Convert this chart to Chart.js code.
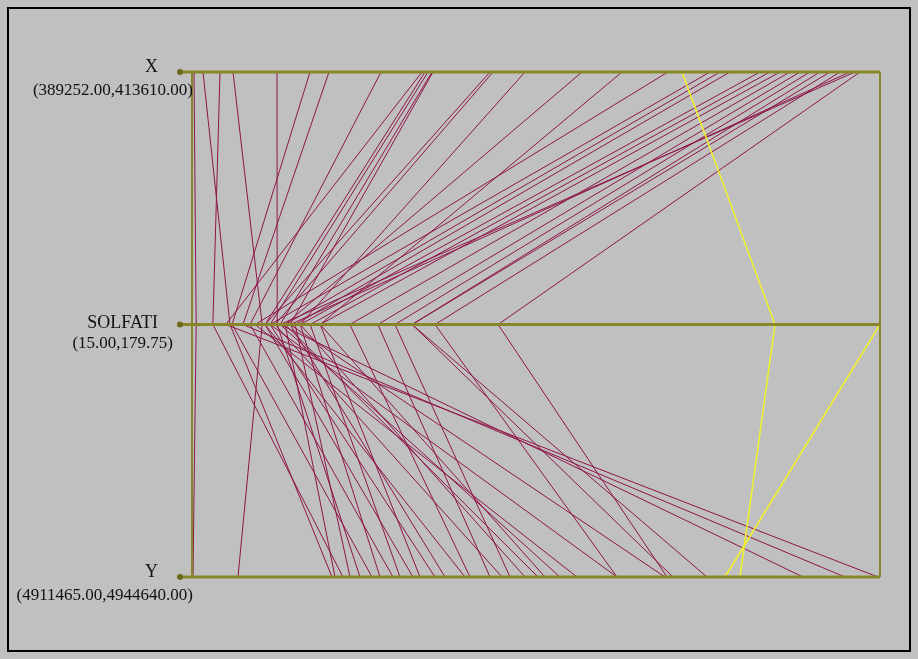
<!DOCTYPE html>
<html>
<head>
<meta charset="utf-8">
<script src="https://cdn.jsdelivr.net/npm/chart.js@4/dist/chart.umd.min.js"></script>
<style>
  html, body { margin: 0; padding: 0; background: #c0c0c0; }
  #wrap { width: 918px; height: 659px; }
</style>
</head>
<body>
<div id="wrap"><canvas id="myChart" width="918" height="659"></canvas></div>
<script>
// axes, top to bottom
const axisNames = ['X', 'SOLFATI', 'Y'];
const axisRanges = [[389252, 413610], [15, 179.75], [4911465, 4944640]];
const rangeLabels = ['(389252.00,413610.00)', '(15.00,179.75)', '(4911465.00,4944640.00)'];

// one entry per record
const xValues = [
  389323, 389641, 390243, 390704, 392261, 393430, 394102, 395943, 397395, 397501,
  397607, 397749, 397784, 399802, 399909, 401041, 403060, 404476, 406104, 407591,
  407945, 408299, 409361, 409715, 410070, 410424, 410778, 411132, 411486, 411840,
  412194, 412548, 412725, 412902, 406600, 413610
];
const solfatiValues = [
  16.0, 24.1, 20.0, 31.8, 35.4, 24.6, 27.2, 28.9, 23.1, 32.5,
  33.7, 36.1, 38.5, 32.5, 34.9, 40.9, 37.3, 45.7, 30.1, 33.7,
  37.3, 39.7, 40.9, 43.3, 45.7, 52.8, 59.5, 63.6, 67.7, 67.7,
  73.2, 38.5, 36.1, 88.3, 154.6, 179.75
];
const yValues = [
  4911513, 4918216, 4918746, 4913683, 4919566, 4920145, 4942953, 4921157, 4944544, 4922122,
  4923182, 4940927, 4923665, 4924629, 4926413, 4927522, 4928149, 4928487, 4930030, 4931959,
  4918360, 4919084, 4920530, 4921495, 4922459, 4924870, 4925835, 4926799, 4936298, 4934658,
  4931959, 4934273, 4929210, 4934370, 4937889, 4937166
];
const selected = [34, 35]; // highlighted records

const lineColor = '#8e1548';
const selColor = '#f2f22a';
const axisColor = '#87872a';

function norm(v, i) {
  return (v - axisRanges[i][0]) / (axisRanges[i][1] - axisRanges[i][0]);
}

const datasets = xValues.map((xv, i) => {
  const sel = selected.includes(i);
  return {
    data: [
      { x: norm(xv, 0), y: 2 },
      { x: norm(solfatiValues[i], 1), y: 1 },
      { x: norm(yValues[i], 2), y: 0 }
    ],
    borderColor: sel ? selColor : lineColor,
    borderWidth: sel ? 1.5 : 1,
    showLine: true,
    pointRadius: 0,
    clip: false,
    order: sel ? 0 : 1
  };
});

const parallelAxes = {
  id: 'parallelAxes',
  beforeDraw(chart) {
    const c = chart.ctx;
    c.save();
    c.fillStyle = '#c0c0c0';
    c.fillRect(0, 0, chart.width, chart.height);
    c.strokeStyle = '#000';
    c.lineWidth = 2;
    c.strokeRect(8, 8, 902, 643);
    c.restore();
  },
  afterDatasetsDraw(chart) {
    const c = chart.ctx;
    const xs = chart.scales.x, ys = chart.scales.y;
    const left = xs.getPixelForValue(0), right = xs.getPixelForValue(1);
    c.save();
    // box sides and the three axis lines, drawn over the records
    c.strokeStyle = axisColor;
    c.lineWidth = 2;
    [left, right].forEach(px => {
      c.beginPath();
      c.moveTo(px, ys.getPixelForValue(2));
      c.lineTo(px, ys.getPixelForValue(0));
      c.stroke();
    });
    c.lineWidth = 3;
    [2, 1, 0].forEach(v => {
      const py = ys.getPixelForValue(v);
      c.beginPath();
      c.moveTo(left - 12, py);
      c.lineTo(right, py);
      c.stroke();
    });

    axisNames.forEach((name, i) => {
      const py = ys.getPixelForValue(2 - i);
      c.fillStyle = '#6a6a18';
      c.beginPath();
      c.arc(left - 12, py, 3, 0, Math.PI * 2);
      c.fill();

      c.fillStyle = '#111';
      c.font = '18px "Liberation Serif"';
      c.textBaseline = 'alphabetic';
      c.textAlign = 'right';
      const nameRight = 158;
      const nw = c.measureText(name).width;
      c.fillText(name, nameRight, py + (i === 1 ? 3 : 0));

      c.font = '17px "Liberation Serif"';
      const rw = c.measureText(rangeLabels[i]).width;
      let rx = nameRight - nw / 2 + rw / 2;
      if (rx > left + 1) rx = left + 1;
      c.fillText(rangeLabels[i], rx, py + 23);
    });
    c.restore();
  }
};

new Chart(document.getElementById('myChart').getContext('2d'), {
  type: 'scatter',
  data: { datasets: datasets },
  options: {
    responsive: false,
    animation: false,
    layout: { padding: { left: 192, right: 38, top: 72, bottom: 82 } },
    plugins: { legend: { display: false }, tooltip: { enabled: false } },
    scales: {
      x: { type: 'linear', min: 0, max: 1, display: false },
      y: { type: 'linear', min: 0, max: 2, display: false }
    }
  },
  plugins: [parallelAxes]
});
</script>
</body>
</html>
